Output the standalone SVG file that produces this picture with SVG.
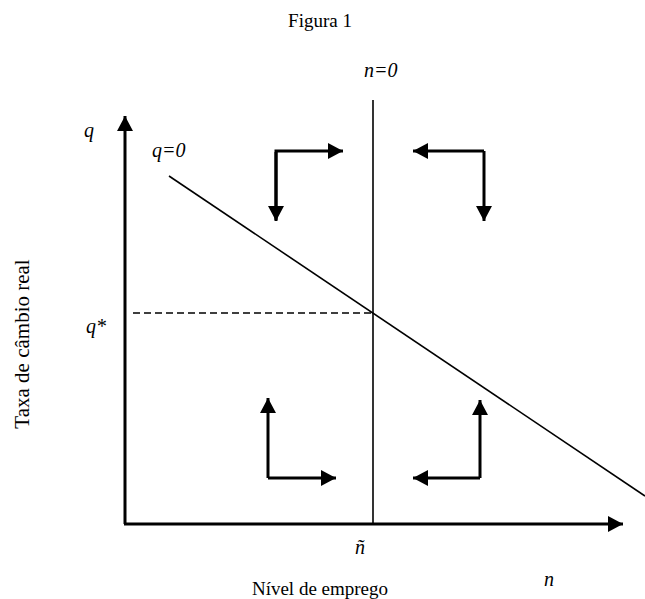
<svg xmlns="http://www.w3.org/2000/svg" width="645" height="599" viewBox="0 0 645 599">
<style>
text{font-family:"Liberation Serif","Times New Roman",serif;font-size:19px;fill:#000}
.it{font-style:italic;font-size:20px}
.ax{stroke:#000;stroke-width:3;fill:none}
.arr{stroke:#000;stroke-width:3;fill:none}
.ln{stroke:#000;stroke-width:1.6;fill:none}
</style>
<defs>
<marker id="ah" markerUnits="userSpaceOnUse" markerWidth="16" markerHeight="16" refX="15" refY="8" orient="auto">
<path d="M0,0 L15,8 L0,16 Z" fill="#000"/>
</marker>
</defs>
<rect width="645" height="599" fill="#fff"/>
<text x="320" y="27" text-anchor="middle">Figura 1</text>
<g id="axes">
<line class="ax" x1="125" y1="524" x2="125" y2="116" marker-end="url(#ah)"/>
<line class="ax" x1="124" y1="524" x2="623" y2="524" marker-end="url(#ah)"/>
<text class="it" x="84" y="137">q</text>
<text class="it" x="544" y="586">n</text>
<text x="320" y="595" text-anchor="middle">Nível de emprego</text>
<text x="0" y="0" text-anchor="middle" style="font-size:21px" transform="translate(29,344) rotate(-90)">Taxa de câmbio real</text>
</g>
<g id="connectors">
<line class="ln" x1="373" y1="100" x2="373" y2="524" stroke-width="2"/>
<line class="ln" x1="169" y1="176" x2="645" y2="496"/>
<line x1="133" y1="313" x2="373" y2="313" stroke="#000" stroke-width="1.6" stroke-dasharray="7,4"/>
</g>
<g id="labels">
<text class="it" x="364" y="77">n=0</text>
<text class="it" x="152" y="157">q=0</text>
<text class="it" x="86" y="333">q*</text>
<text class="it" x="355" y="554">ñ</text>
</g>
<g id="arrows">
<path class="arr" d="M276,220 V151 H343" marker-end="url(#ah)"/>
<path class="arr" d="M276,152 V221" marker-end="url(#ah)"/>
<path class="arr" d="M484,151 H413" marker-end="url(#ah)"/>
<path class="arr" d="M484,151 V221" marker-end="url(#ah)"/>
<path class="arr" d="M268,478 V398" marker-end="url(#ah)"/>
<path class="arr" d="M268,478 H336" marker-end="url(#ah)"/>
<path class="arr" d="M480,478 V400" marker-end="url(#ah)"/>
<path class="arr" d="M480,478 H413" marker-end="url(#ah)"/>
</g>
</svg>
